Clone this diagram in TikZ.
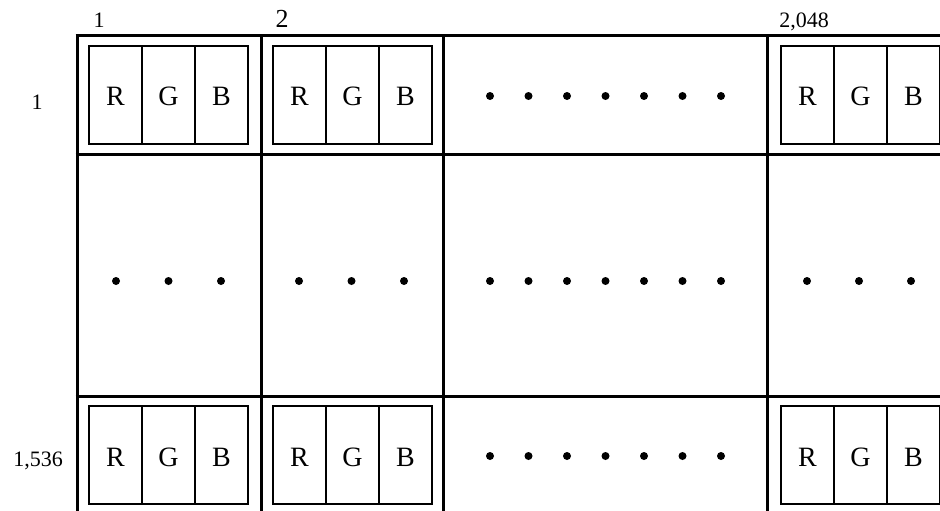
\documentclass[tikz,border=0pt]{standalone}
\usepackage{fontspec}
\setmainfont{Liberation Serif}
\begin{document}
\begin{tikzpicture}[x=1pt,y=-1pt,
  gridline/.style={line width=3pt},
  cell/.style={draw,line width=2.2pt,minimum width=53pt,minimum height=98pt,inner sep=0pt,
    text height=26pt,text depth=4pt,font=\fontsize{28}{32}\selectfont},
  lab/.style={font=\fontsize{22}{26}\selectfont,inner sep=0pt,anchor=base},
  pdot/.style={fill,circle,inner sep=0pt,minimum size=8pt}]
\useasboundingbox (0,0) rectangle (940,511);
\clip (0,0) rectangle (940,511);
% outer grid
\foreach \gx in {77,261,443,767} \draw[gridline] (\gx,36) -- (\gx,520);
\foreach \gy in {36,154,396} \draw[gridline] (75.5,\gy) -- (950,\gy);
% RGB cells
\foreach \cx/\cn in {89/a,273/b,781/d}{
  \foreach \cy/\rn in {95/one,455/three}{
    \node[cell] (\cn\rn R) at (\cx+26.5,\cy) {R};
    \node[cell] (\cn\rn G) at (\cx+79.5,\cy) {G};
    \node[cell] (\cn\rn B) at (\cx+132.5,\cy) {B};
  }
}
% dots
\foreach \i in {0,...,6}{
  \node[pdot] (dt\i) at (490+38.5*\i,96) {};
  \node[pdot] (dm\i) at (490+38.5*\i,281) {};
  \node[pdot] (db\i) at (490+38.5*\i,456) {};
}
\foreach \i/\dx in {0/116,1/168.5,2/221,3/299,4/351.5,5/404,6/807,7/859,8/911}
  \node[pdot] (dx\i) at (\dx,281) {};
% labels
\node[lab] (c1) at (99,28) {1};
\node[lab,font=\fontsize{26}{30}\selectfont] (c2) at (282,28) {2};
\node[lab] (c2048) at (804,28) {2,048};
\node[lab] (r1) at (37,109) {1};
\node[lab] (r1536) at (38,466) {1,536};
\end{tikzpicture}
\end{document}
